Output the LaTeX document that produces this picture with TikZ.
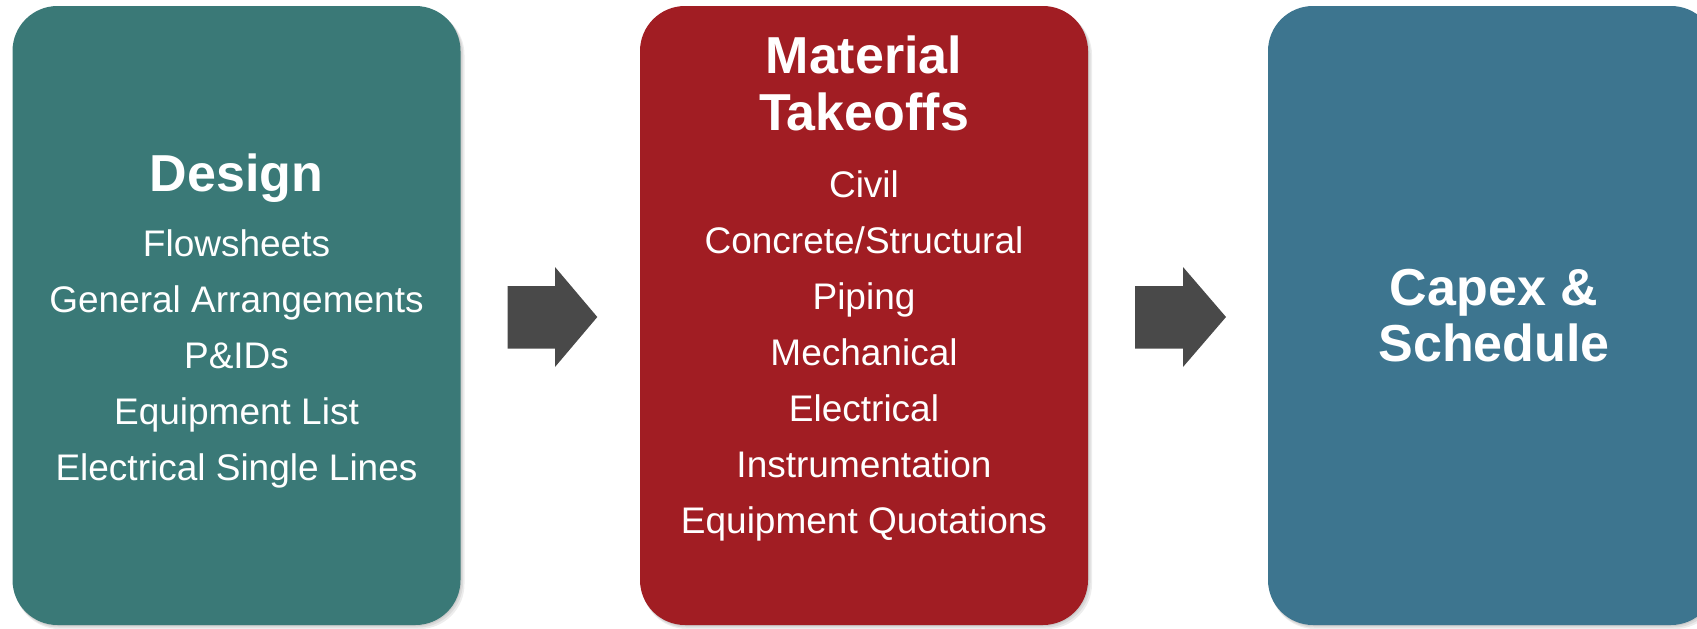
\documentclass[tikz,border=0pt]{standalone}
\usepackage{fontspec}
\setmainfont{Liberation Sans}
\definecolor{designteal}{RGB}{58,121,119}
\definecolor{takeoffred}{RGB}{161,29,35}
\definecolor{capexblue}{RGB}{61,117,143}
\definecolor{arrowgray}{RGB}{73,73,73}
\begin{document}
\begin{tikzpicture}[x=1pt,y=-1pt,
  box/.style={rounded corners=45pt, minimum width=448pt, minimum height=619pt, inner sep=0pt, outer sep=0pt, draw=none},
  shadowlayer/.style={fill=black, fill opacity=0.07, draw=none, rounded corners=45pt},
  titletext/.style={text=white, font=\fontsize{52}{57}\selectfont\bfseries, inner sep=0pt, anchor=base},
  itemtext/.style={text=white, font=\fontsize{37}{44}\selectfont, inner sep=0pt, anchor=base},
  blockarrow/.style={fill=arrowgray, draw=none}]
\useasboundingbox (0,0) rectangle (1697,629);
% soft shadows
\foreach \cx in {236.5,864,1492}{
  \foreach \d in {1,2.5,4}{
    \path[shadowlayer] (\cx-224+\d*0.5,6+\d) rectangle (\cx+224+\d,625+\d);
  }
}
% boxes
\node[box, fill=designteal] (design) at (236.5,315.5) {};
\node[box, fill=takeoffred] (takeoff) at (864,315.5) {};
\node[box, fill=capexblue] (capex) at (1492,315.5) {};
% block arrows
\fill[blockarrow] (507.6,286) -- (555,286) -- (555,267) -- (597.3,317) -- (555,367) -- (555,348.6) -- (507.6,348.6) -- cycle;
\fill[blockarrow] (1135,286) -- (1183,286) -- (1183,267) -- (1226,317) -- (1183,367) -- (1183,348.6) -- (1135,348.6) -- cycle;
% Design texts
\node[titletext] (dtitle) at (236.5,191) {Design};
\node[itemtext] (d1) at (236.5,256) {Flowsheets};
\node[itemtext] (d2) at (236.5,312) {General Arrangements};
\node[itemtext] (d3) at (236.5,368) {P\&IDs};
\node[itemtext] (d4) at (236.5,424) {Equipment List};
\node[itemtext] (d5) at (236.5,480) {Electrical Single Lines};
% Material takeoff texts
\node[titletext] (mtitle1) at (864,73.5) {Material};
\node[titletext] (mtitle2) at (864,130.5) {Takeoffs};
\node[itemtext] (m1) at (864,197) {Civil};
\node[itemtext] (m2) at (864,253) {Concrete/Structural};
\node[itemtext] (m3) at (864,309) {Piping};
\node[itemtext] (m4) at (864,365) {Mechanical};
\node[itemtext] (m5) at (864,421) {Electrical};
\node[itemtext] (m6) at (864,477) {Instrumentation};
\node[itemtext] (m7) at (864,533) {Equipment Quotations};
% Capex texts
\node[titletext] (ctitle1) at (1494,305) {Capex \&};
\node[titletext] (ctitle2) at (1494,361.5) {Schedule};
\end{tikzpicture}
\end{document}
